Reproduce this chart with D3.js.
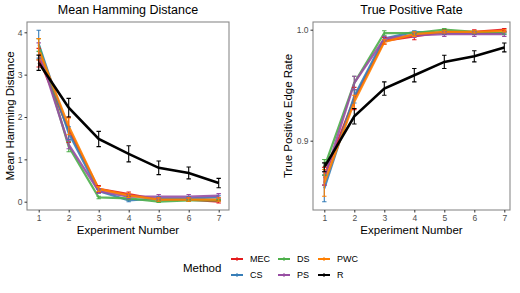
<!DOCTYPE html>
<html><head><meta charset="utf-8">
<script src="https://cdn.jsdelivr.net/npm/d3@7"></script>
<style>body{margin:0;background:#fff}svg text{font-family:"Liberation Sans",Arial,sans-serif}</style>
</head><body><svg id="c" width="520" height="293"></svg>
<script>
const experiments = [1,2,3,4,5,6,7];
const methods = ["MEC","CS","DS","PS","PWC","R"];
const colors = ["#E41A1C","#377EB8","#4DAF4A","#984EA3","#FF7F00","#000000"];
const hamTicks = [0,1,2,3,4];
const tprTicks = [0.9,1.0];

const hamMEC = [3.40,1.70,0.30,0.18,0.05,0.05,0.00];
const hamCS  = [3.72,1.62,0.25,0.03,0.08,0.08,0.10];
const hamDS  = [3.70,1.30,0.10,0.08,0.00,0.03,0.03];
const hamPS  = [3.55,1.35,0.25,0.12,0.12,0.12,0.14];
const hamPWC = [3.60,1.78,0.30,0.15,0.05,0.05,0.05];
const hamR   = [3.28,2.22,1.48,1.13,0.80,0.68,0.44];
const hamErrMEC = [0.22,0.30,0.08,0.05,0.04,0.04,0.03];
const hamErrCS  = [0.33,0.15,0.05,0.03,0.04,0.04,0.04];
const hamErrDS  = [0.15,0.12,0.03,0.03,0.02,0.02,0.02];
const hamErrPS  = [0.20,0.10,0.05,0.05,0.05,0.05,0.05];
const hamErrPWC = [0.25,0.20,0.06,0.05,0.04,0.04,0.04];
const hamErrR   = [0.18,0.22,0.18,0.19,0.16,0.14,0.11];

const tprMEC = [0.868,0.938,0.990,0.994,0.998,0.998,1.000];
const tprCS  = [0.857,0.940,0.992,0.998,0.997,0.997,0.997];
const tprDS  = [0.876,0.952,0.997,0.997,1.000,0.998,0.997];
const tprPS  = [0.866,0.952,0.992,0.995,0.996,0.996,0.996];
const tprPWC = [0.862,0.935,0.989,0.996,0.998,0.998,0.999];
const tprR   = [0.876,0.922,0.947,0.959,0.971,0.976,0.984];
const tprErrMEC = [0.008,0.010,0.003,0.003,0.002,0.002,0.001];
const tprErrCS  = [0.012,0.006,0.002,0.001,0.001,0.001,0.001];
const tprErrDS  = [0.007,0.006,0.002,0.001,0.001,0.001,0.001];
const tprErrPS  = [0.006,0.006,0.002,0.002,0.002,0.002,0.002];
const tprErrPWC = [0.012,0.006,0.002,0.002,0.001,0.001,0.001];
const tprErrR   = [0.004,0.007,0.006,0.006,0.006,0.005,0.004];

const hamVals = [hamMEC,hamCS,hamDS,hamPS,hamPWC,hamR];
const hamErrs = [hamErrMEC,hamErrCS,hamErrDS,hamErrPS,hamErrPWC,hamErrR];
const tprVals = [tprMEC,tprCS,tprDS,tprPS,tprPWC,tprR];
const tprErrs = [tprErrMEC,tprErrCS,tprErrDS,tprErrPS,tprErrPWC,tprErrR];

const svg = d3.select("#c");

function panel(opts){
  const {x0,x1,y0,y1,xs,ys,vals,errs,ticks,fmt,title,ytitle,ytx} = opts;
  const g = svg.append("g");
  vals.forEach((v,i)=>{
    const line = d3.line().x((d,j)=>xs(experiments[j])).y(d=>ys(d));
    g.append("path").datum(v).attr("d",line).attr("fill","none")
      .attr("stroke",colors[i]).attr("stroke-width", i===5?2.6:2.3)
      .attr("stroke-opacity", i===5?1:0.9);
  });
  vals.forEach((v,i)=>{
    const e = errs[i];
    v.forEach((d,j)=>{
      const cx = xs(experiments[j]);
      const lo = ys(d-e[j]), hi = ys(d+e[j]);
      const w = 2.2;
      g.append("path").attr("d",`M${cx},${lo}V${hi}M${cx-w},${lo}H${cx+w}M${cx-w},${hi}H${cx+w}`)
        .attr("fill","none").attr("stroke",colors[i]).attr("stroke-width",1.1);
    });
  });
  g.append("rect").attr("x",x0).attr("y",y0).attr("width",x1-x0).attr("height",y1-y0)
    .attr("fill","none").attr("stroke","#8a8a8a").attr("stroke-width",1.1);
  const xa = d3.axisBottom(xs).tickValues(experiments).tickSize(2.5).tickPadding(2).tickFormat(d3.format("d"));
  const xg = svg.append("g").attr("transform",`translate(0,${y1})`).call(xa);
  const ya = d3.axisLeft(ys).tickValues(ticks).tickSize(2.5).tickPadding(2).tickFormat(fmt);
  const yg = svg.append("g").attr("transform",`translate(${x0},0)`).call(ya);
  [xg,yg].forEach(a=>{
    a.select(".domain").remove();
    a.selectAll(".tick line").attr("stroke","#333");
    a.selectAll(".tick text").attr("fill","#4d4d4d").style("font-size","8.5px");
  });
  svg.append("text").attr("x",(x0+x1)/2).attr("y",14).attr("text-anchor","middle")
    .style("font-size","12.5px").attr("fill","#000").text(title);
  svg.append("text").attr("x",(x0+x1)/2).attr("y",234).attr("text-anchor","middle")
    .style("font-size","11.5px").attr("fill","#000").text("Experiment Number");
  svg.append("text").attr("transform",`translate(${ytx},${(y0+y1)/2}) rotate(-90)`)
    .attr("text-anchor","middle").style("font-size","11.5px").attr("fill","#000").text(ytitle);
}

panel({x0:27,x1:229,y0:22,y1:210,
  xs:d3.scaleLinear().domain([1,7]).range([38.7,218.7]),
  ys:d3.scaleLinear().domain([0,4]).range([201.7,32.3]),
  vals:hamVals,errs:hamErrs,ticks:hamTicks,fmt:d3.format("d"),
  title:"Mean Hamming Distance",ytitle:"Mean Hamming Distance",ytx:14});
panel({x0:313,x1:510,y0:22,y1:210,
  xs:d3.scaleLinear().domain([1,7]).range([324.3,504.3]),
  ys:d3.scaleLinear().domain([0.9,1.0]).range([140.7,29.7]),
  vals:tprVals,errs:tprErrs,ticks:tprTicks,fmt:d3.format(".1f"),
  title:"True Positive Rate",ytitle:"True Positive Edge Rate",ytx:292});

const lg = svg.append("g");
lg.append("text").attr("x",183).attr("y",271.5).style("font-size","11.5px").text("Method");
const colX = [231,278,318];
const rowY = [259,275];
methods.forEach((m,i)=>{
  const col = Math.floor(i/2), row = i%2;
  const kx = colX[col], ky = rowY[row];
  lg.append("line").attr("x1",kx).attr("x2",kx+12).attr("y1",ky).attr("y2",ky)
    .attr("stroke",colors[i]).attr("stroke-width",2);
  lg.append("line").attr("x1",kx+6).attr("x2",kx+6).attr("y1",ky-2).attr("y2",ky+2)
    .attr("stroke",colors[i]).attr("stroke-width",1);
  lg.append("text").attr("x",kx+19).attr("y",ky+3.2).style("font-size","9px").text(m);
});
</script></body></html>
